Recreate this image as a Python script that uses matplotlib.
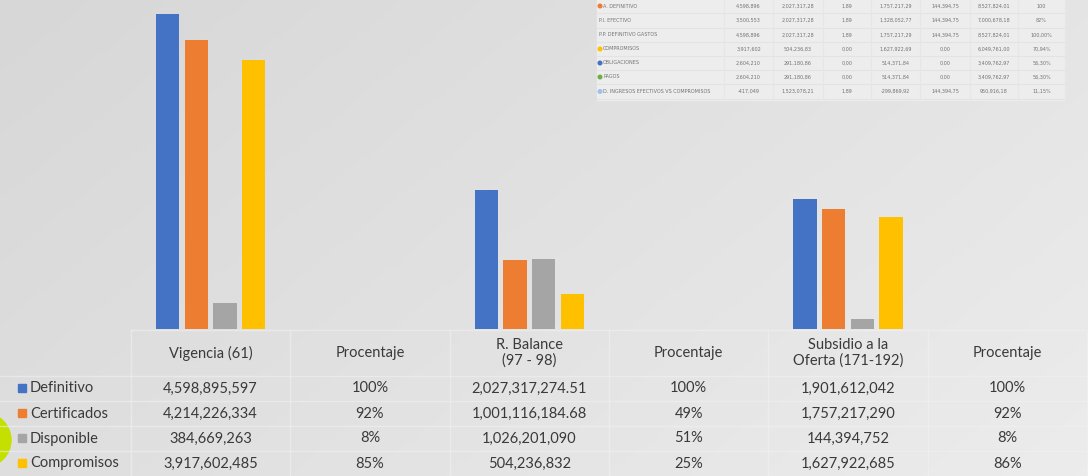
import matplotlib
matplotlib.use("Agg")
import matplotlib.pyplot as plt
import numpy as np
from matplotlib.patches import Rectangle, Circle

W, H = 1088, 476

# ---------------- data ----------------
categories = ["Vigencia (61)", "Procentaje", "R. Balance\n(97 - 98)", "Procentaje",
              "Subsidio a la\nOferta (171-192)", "Procentaje"]
series = ["Definitivo", "Certificados", "Disponible", "Compromisos"]
definitivo = [4598895597, 1.00, 2027317274.51, 1.00, 1901612042, 1.00]
certificados = [4214226334, 0.92, 1001116184.68, 0.49, 1757217290, 0.92]
disponible = [384669263, 0.08, 1026201090, 0.51, 144394752, 0.08]
compromisos = [3917602485, 0.85, 504236832, 0.25, 1627922685, 0.86]
series_values = [definitivo, certificados, disponible, compromisos]
colors = ["#4472C4", "#ED7D31", "#A5A5A5", "#FFC000"]

# small pasted table (top right, blurred in the original)
inset_labels = ["A. DEFINITIVO", "P.I. EFECTIVO", "P.P. DEFINITIVO GASTOS", "COMPROMISOS",
                "OBLIGACIONES", "PAGOS", "D. INGRESOS EFECTIVOS VS COMPROMISOS"]
inset_markers = ["#ED7D31", None, None, "#FFC000", "#4472C4", "#70AD47", "#9DC3E6"]
inset_rows = [
    ["4,598,896", "2,027,317,28", "1,89", "1,757,217,29", "144,394,75", "8,527,824,01", "100"],
    ["3,500,553", "2,027,317,28", "1,89", "1,328,052,77", "144,394,75", "7,000,678,18", "82%"],
    ["4,598,896", "2,027,317,28", "1,89", "1,757,217,29", "144,394,75", "8,527,824,01", "100,00%"],
    ["3,917,602", "504,236,83", "0,00", "1,627,922,69", "0,00", "6,049,761,00", "70,94%"],
    ["2,604,210", "291,180,86", "0,00", "514,371,84", "0,00", "3,409,762,97", "56,30%"],
    ["2,604,210", "291,180,86", "0,00", "514,371,84", "0,00", "3,409,762,97", "56,30%"],
    ["-417,049", "1,523,078,21", "1,89", "-299,869,92", "144,394,75", "950,916,18", "11,15%"],
]


def fmt(v):
    if v <= 1.0:
        return f"{v:.0%}"
    if v % 1:
        return f"{v:,.2f}"
    return f"{v:,.0f}"


fig = plt.figure(figsize=(W / 100, H / 100), dpi=100)

# ---------------- background gradient ----------------
bg = fig.add_axes([0, 0, 1, 1], zorder=0)
xx, yy = np.meshgrid(np.linspace(0, 1, 200), np.linspace(0, 1, 100))
grad = 0.65 * xx + 0.35 * yy
bg.imshow(grad, cmap=matplotlib.colors.LinearSegmentedColormap.from_list(
    "g", ["#d7d7d7", "#ececec"]), aspect="auto", extent=[0, 1, 1, 0])
bg.set_axis_off()

# ---------------- bars ----------------
left_px, right_px, base_px = 131, 1087, 329
ax = fig.add_axes([left_px / W, (H - base_px) / H, (right_px - left_px) / W, base_px / H], zorder=2)
ax.patch.set_visible(False)
x = np.arange(len(categories))
offsets = [-0.27, -0.09, 0.09, 0.27]
for vals, col, off in zip(series_values, colors, offsets):
    ax.bar(x + off, vals, width=0.145, color=col, zorder=3)
ax.set_xlim(-0.5, len(categories) - 0.5)
ax.set_ylim(0, 4.8e9)
ax.set_axis_off()

# ---------------- overlay (pixel coords) ----------------
ov = fig.add_axes([0, 0, 1, 1], zorder=3)
ov.patch.set_visible(False)
ov.set_xlim(0, W)
ov.set_ylim(H, 0)
ov.set_axis_off()

# lime circle decoration
ov.add_patch(Circle((-16, 440), 27, color="#C4E000", zorder=1, clip_on=False))

# data table grid
col_w = (right_px - left_px) / len(categories)
col_edges = [left_px + i * col_w for i in range(len(categories) + 1)]
row_edges = [330, 376, 401, 426, 451, 476]
gcol = "#f2f2f2"
for ye in row_edges[:-1]:
    ov.plot([0 if ye > 330 else left_px, W], [ye, ye], color=gcol, lw=1, alpha=0.55, zorder=2)
for xe in col_edges:
    ov.plot([xe, xe], [330, H], color=gcol, lw=1, alpha=0.55, zorder=2)

tcol = "#3a3a3a"
tfont = dict(family="Lato", size=10.5, color=tcol)
for i, cat in enumerate(categories):
    cx = left_px + (i + 0.5) * col_w
    ov.text(cx, 353, cat, ha="center", va="center", linespacing=1.15, **tfont)
for r, (name, vals, col) in enumerate(zip(series, series_values, colors)):
    cy = (row_edges[r + 1] + row_edges[r + 2]) / 2
    ov.add_patch(Rectangle((18, cy - 4.5), 8, 8, color=col, zorder=3))
    ov.text(30, cy, name, ha="left", va="center", **tfont)
    for i, v in enumerate(vals):
        cx = left_px + (i + 0.5) * col_w
        ov.text(cx, cy, fmt(v), ha="center", va="center", **tfont)

# pasted small table (top right)
ov.add_patch(Rectangle((597, -1), 468, 101, color="#ededed", zorder=1))
ins_cols = [724, 773, 823, 871, 920, 970, 1018, 1065]
ins_y = [6, 20.5, 35, 49, 63, 77, 91.5]
for k in range(len(inset_labels)):
    ov.plot([597, 1065], [ins_y[k] + 7, ins_y[k] + 7], color="#e3e3e3", lw=0.8, zorder=2)
for xe in ins_cols:
    ov.plot([xe, xe], [-1, 99], color="#e6e6e6", lw=0.8, zorder=2)
sfont = dict(family="DejaVu Sans", size=3.5, color="#555555", alpha=0.8)
for k, (lab, mk, row) in enumerate(zip(inset_labels, inset_markers, inset_rows)):
    yk = ins_y[k]
    if mk:
        ov.add_patch(Circle((600, yk), 1.8, color=mk, zorder=3))
    ov.text(603 if mk else 599, yk, lab, ha="left", va="center", **sfont)
    for j, s in enumerate(row):
        cx = (ins_cols[j] + ins_cols[j + 1]) / 2
        ov.text(cx, yk, s, ha="center", va="center", **sfont)

fig.savefig("out.png", dpi=100)
